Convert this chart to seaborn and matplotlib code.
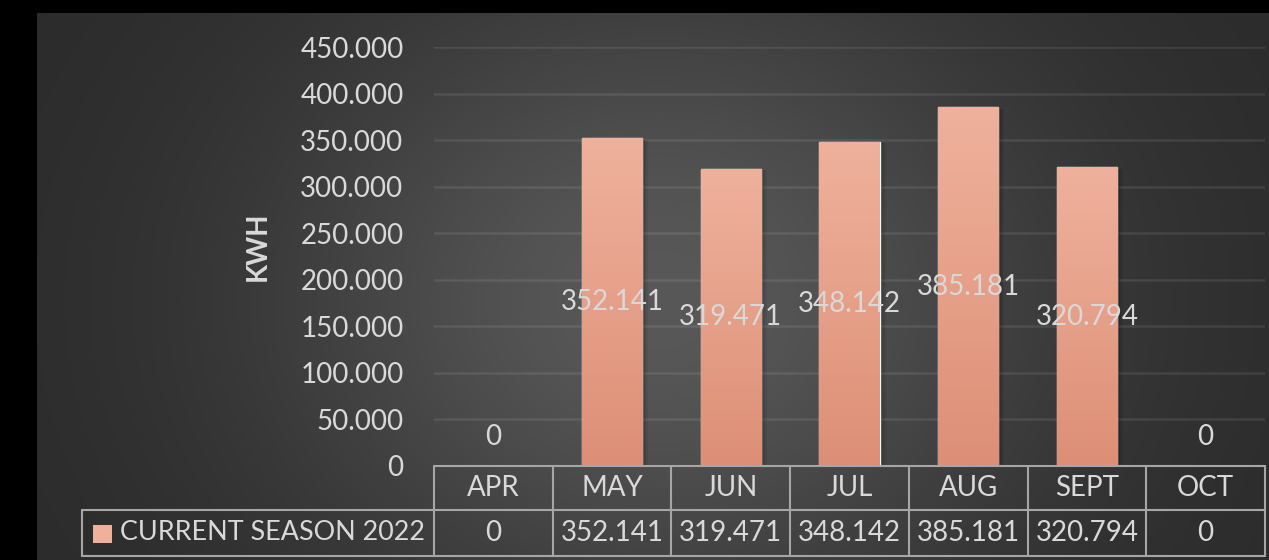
import numpy as np
import pandas as pd
import matplotlib
matplotlib.use('Agg')
import matplotlib.pyplot as plt
import matplotlib.transforms as mtrans
from matplotlib.patches import Rectangle
from matplotlib.ticker import FuncFormatter
import seaborn as sns

# Data
months = ['APR', 'MAY', 'JUN', 'JUL', 'AUG', 'SEPT', 'OCT']
kwh = [0, 352.141, 319.471, 348.142, 385.181, 320.794, 0]
series_name = 'CURRENT SEASON 2022'
y_ticks = [0, 50, 100, 150, 200, 250, 300, 350, 400, 450]

df = pd.DataFrame({'month': months, 'kwh': kwh})

text_col = '#d9d9d9'
bar_top = '#efb19c'
bar_bot = '#dd8f76'
line_col = '#a6a6a6'


def fmt(v):
    return '0' if v == 0 else f'{v:.3f}'


sns.set_theme(style='dark')
plt.rcParams['font.family'] = ['Lato', 'DejaVu Sans']

W, H = 1269, 560
fig = plt.figure(figsize=(W / 100, H / 100), dpi=100, facecolor='black')

# dark panel with a soft radial glow
bg = fig.add_axes([37 / W, 0, 1 - 37 / W, 547 / H])
bg.set_axis_off()
gx, gy = np.meshgrid(np.linspace(37, W, 400), np.linspace(13, H, 200))
glow = 42 + 46 * np.exp(-((gx - 660) / 400) ** 2 - ((gy - 300) / 330) ** 2)
bg.imshow(np.dstack([glow / 255] * 3), aspect='auto', extent=[0, 1, 0, 1])

ax = fig.add_axes([434 / W, (H - 466) / H, 831 / W, 419 / H])
ax.set_facecolor('none')
for s in ax.spines.values():
    s.set_visible(False)

sns.barplot(data=df, x='month', y='kwh', color=bar_bot, width=0.51, ax=ax, zorder=3)
ax.set_xlim(-0.5, len(months) - 0.5)
ax.set_ylim(0, 450)

# gradient fill + shadow for each bar
grad = np.linspace(0, 1, 100)[:, None]
top = np.array(matplotlib.colors.to_rgb(bar_top))
bot = np.array(matplotlib.colors.to_rgb(bar_bot))
img = top[None, None, :] * (1 - grad[..., None]) + bot[None, None, :] * grad[..., None]
for p in list(ax.patches):
    x0, w, h = p.get_x(), p.get_width(), p.get_height()
    if h <= 0:
        continue
    for k, a in enumerate([0.10, 0.08, 0.06]):
        off = 0.02 + k * 0.015
        ax.add_patch(Rectangle((x0 + off, 0), w, h - 1.5, color='black', alpha=a,
                               lw=0, zorder=2))
    im = ax.imshow(img, extent=[x0, x0 + w, 0, h], aspect='auto', zorder=3.5)
    im.set_clip_path(p)
ax.set_xlim(-0.5, len(months) - 0.5)
ax.set_ylim(0, 450)

# data labels
for i, v in enumerate(kwh):
    if v > 0:
        ax.text(i, v / 2, fmt(v), ha='center', va='center', color=text_col,
                fontsize=20, zorder=5)
    else:
        ax.annotate(fmt(v), (i, 0), xytext=(0, 21), textcoords='offset points',
                    ha='center', va='center', color=text_col, fontsize=20, zorder=5)

ax.set_yticks(y_ticks)
ax.yaxis.set_major_formatter(FuncFormatter(lambda v, _: fmt(v)))
ax.tick_params(axis='y', length=0, pad=22, labelsize=20, labelcolor=text_col)
ax.set_xticks([])
ax.set_xlabel('')
ax.set_ylabel('KWH', fontsize=20, fontweight='bold', color=text_col)
ax.yaxis.set_label_coords(-0.197, 0.525)
ax.grid(axis='y', color='white', alpha=0.09, lw=1.8, zorder=0)
ax.set_axisbelow(True)

# data table under the plot (axes-fraction layout)
rl_x = -352 / 831          # left edge of the row-label cell
y_mid = -44 / 419
y_bot = -90 / 419
n = len(months)
lk = dict(color=line_col, lw=1.5, transform=ax.transAxes, clip_on=False, zorder=6)
ax.plot([0, 1], [0, 0], **lk)
ax.plot([rl_x, 1], [y_mid, y_mid], **lk)
ax.plot([rl_x, 1], [y_bot, y_bot], **lk)
ax.plot([rl_x, rl_x], [y_mid, y_bot], **lk)
for k in range(n + 1):
    ax.plot([k / n, k / n], [0, y_bot], **lk)

blend = mtrans.blended_transform_factory(ax.transData, ax.transAxes)
for i, (m, v) in enumerate(zip(months, kwh)):
    ax.text(i, y_mid / 2, m, transform=blend, ha='center', va='center',
            color=text_col, fontsize=20, clip_on=False)
    ax.text(i, (y_mid + y_bot) / 2, fmt(v), transform=blend, ha='center',
            va='center', color=text_col, fontsize=20, clip_on=False)
ax.text(-314 / 831, (y_mid + y_bot) / 2, series_name, transform=ax.transAxes,
        ha='left', va='center', color=text_col, fontsize=19.4, clip_on=False)

# legend key inside the row label cell
key = Rectangle((-341 / 831, -77 / 419), 19 / 831, 18 / 419, transform=ax.transAxes,
                facecolor=bar_top, edgecolor='none', clip_on=False, zorder=6)
ax.add_patch(key)

fig.savefig('out.png', dpi=100, facecolor='black')
